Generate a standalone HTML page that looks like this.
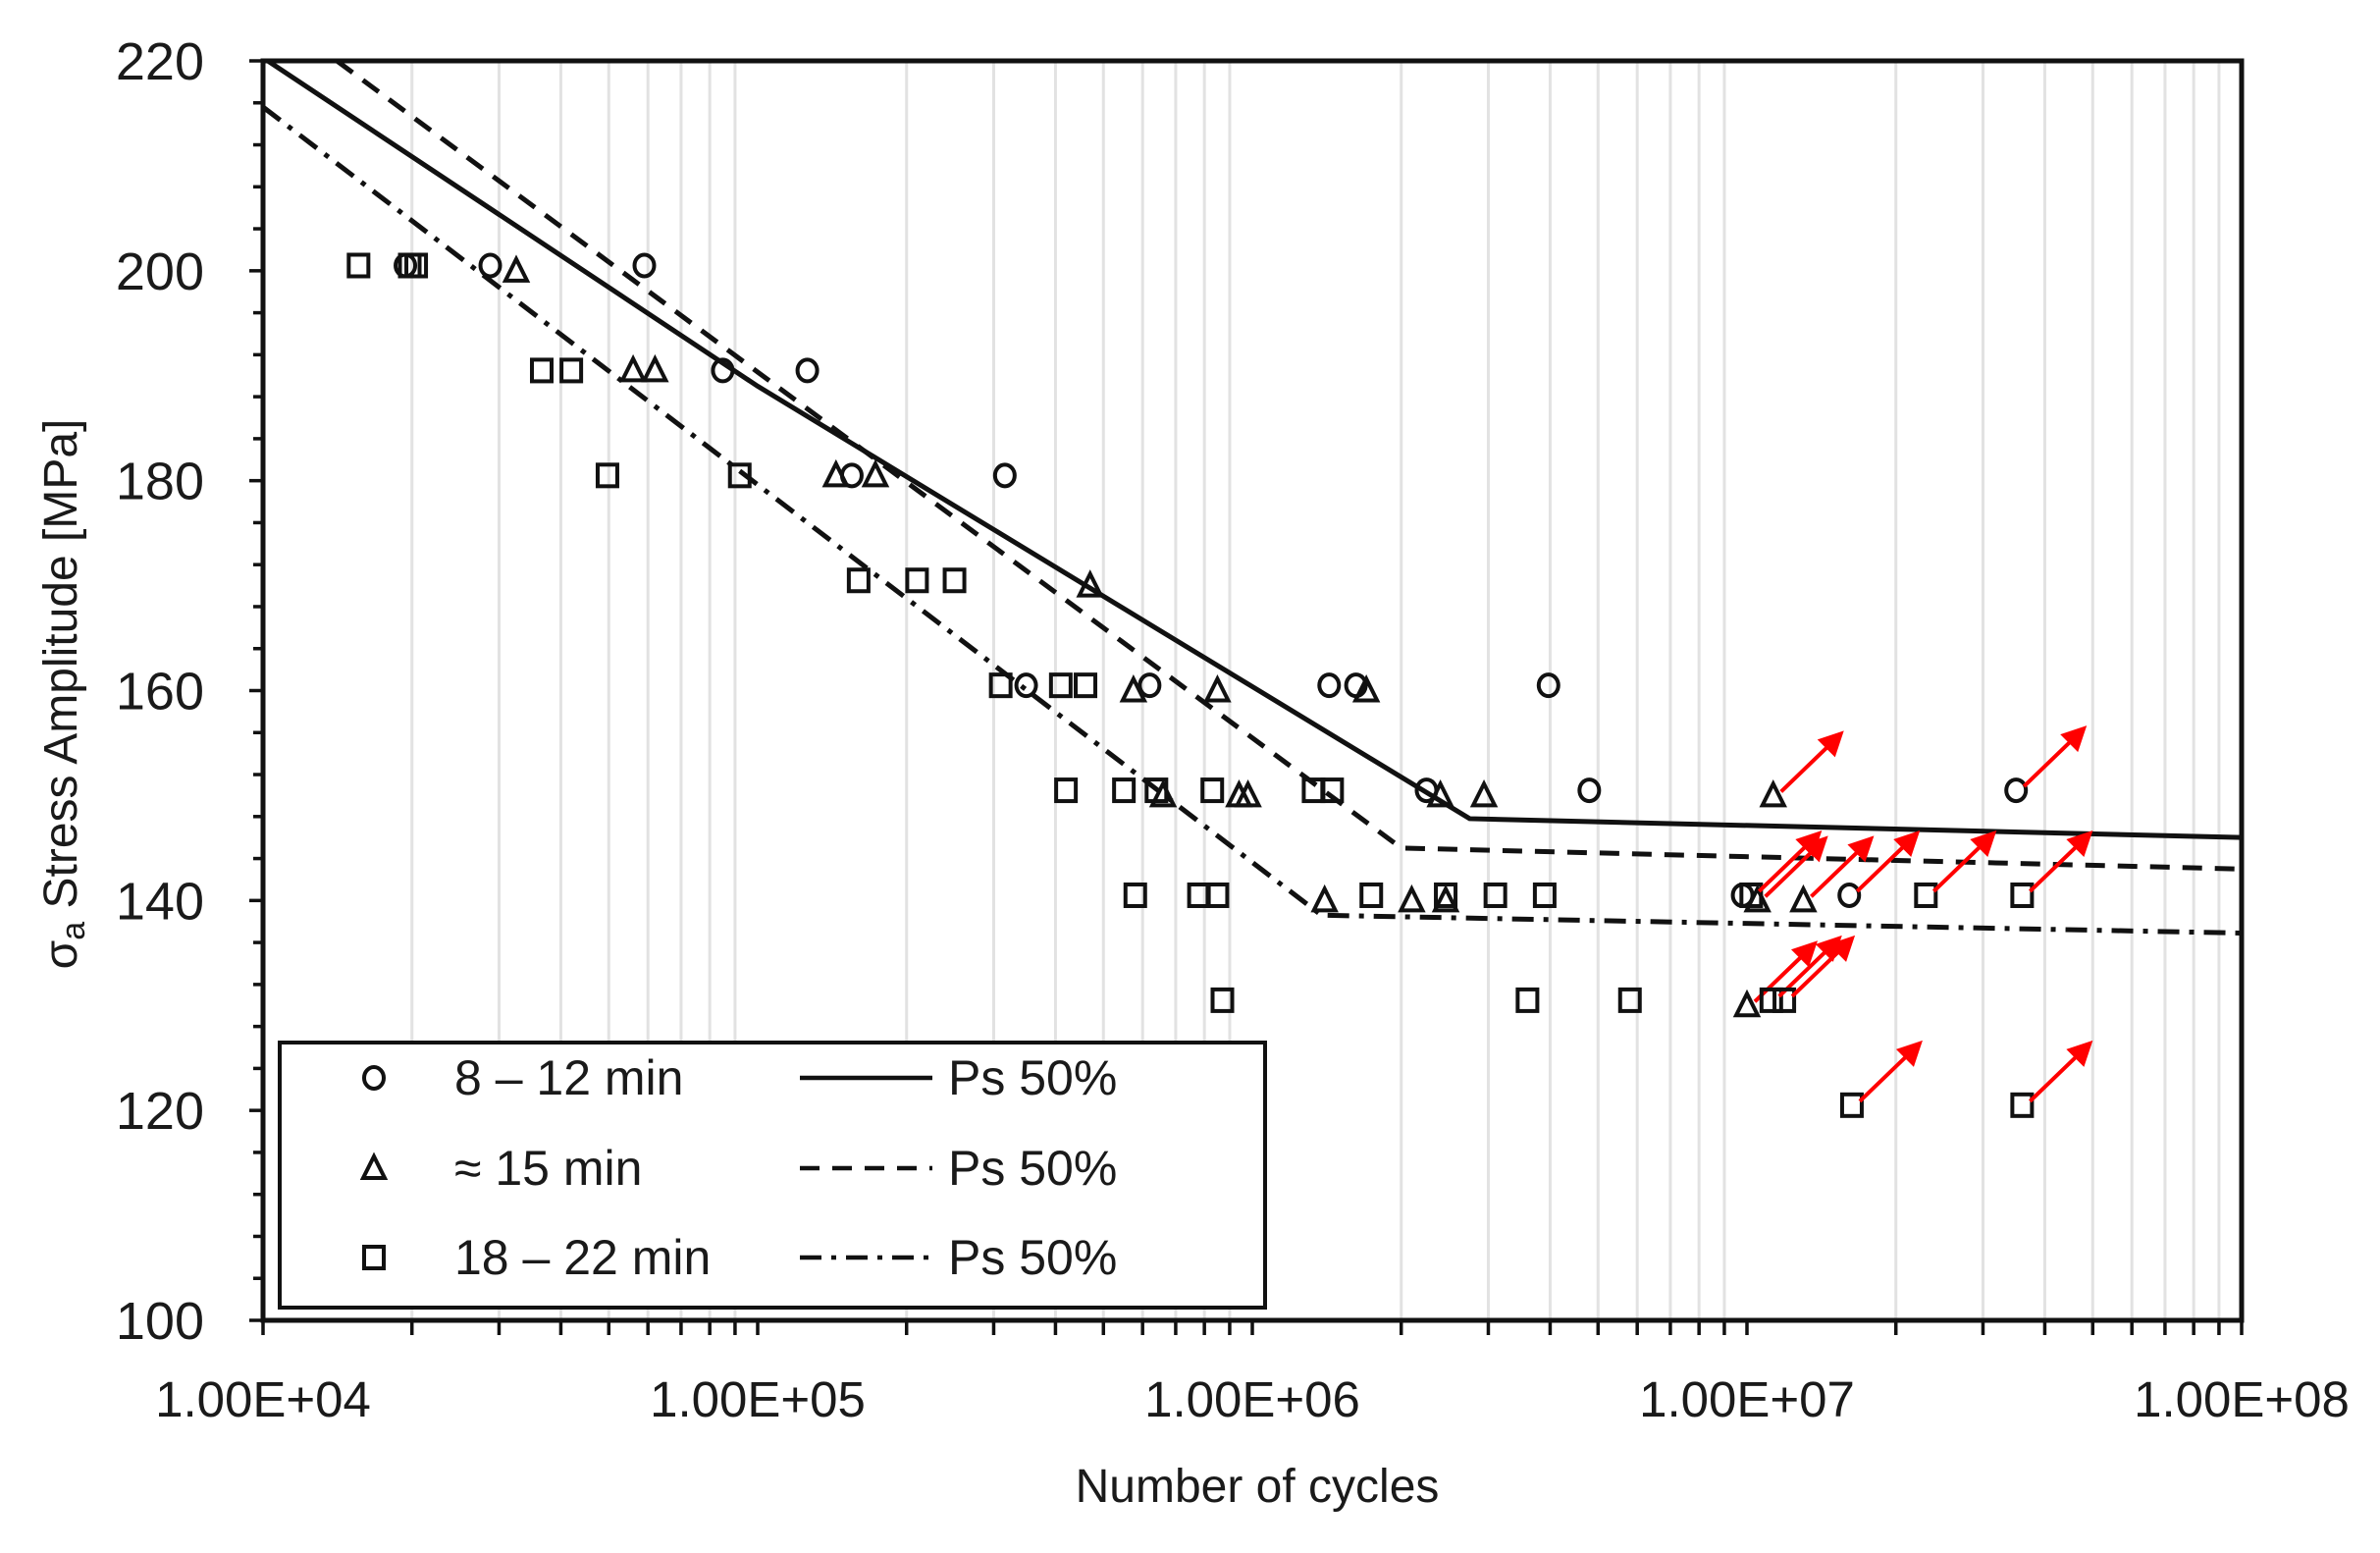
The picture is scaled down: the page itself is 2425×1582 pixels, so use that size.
<!DOCTYPE html>
<html><head><meta charset="utf-8"><style>
html,body{margin:0;padding:0;background:#fff}
svg{display:block}
text{font-family:"Liberation Sans",sans-serif;fill:#1a1a1a}
</style></head><body>
<svg id="chart" width="2425" height="1582" viewBox="0 0 2425 1582" xmlns="http://www.w3.org/2000/svg">
<g id="grid"></g>
<g id="axes"></g>
<g id="curves"></g>
<g id="points"></g>
<text x="1281" y="1530" font-size="48" text-anchor="middle">Number of cycles</text>
<text transform="translate(78,707) rotate(-90)" font-size="48" text-anchor="middle">σ<tspan font-size="34" dy="8">a</tspan><tspan dy="-8"> Stress Amplitude [MPa]</tspan></text>
<g id="legend"></g>
</svg>
<script>
// ---- data ----
const xTickLabels = ["1.00E+04","1.00E+05","1.00E+06","1.00E+07","1.00E+08"];
const yTickValues = [100,120,140,160,180,200,220];
// 8-12 min (circles)
const circN = [1.94e4,2.88e4,5.9e4,8.5e4,1.26e5,1.55e5,3.16e5,3.49e5,6.2e5,1.43e6,1.62e6,3.97e6,2.25e6,4.8e6,9.8e6];
const circS = [200.5,200.5,200.5,190.5,190.5,180.5,180.5,160.5,160.5,160.5,160.5,160.5,150.5,150.5,140.5];
const circRunN = [3.5e7,1.61e7];
const circRunS = [150.5,140.5];
// ~15 min (triangles)
const triN = [3.25e4,5.6e4,6.2e4,1.44e5,1.73e5,4.7e5,5.75e5,8.5e5,1.7e6,6.6e5,9.4e5,9.8e5,2.4e6,2.94e6,1.4e6,2.1e6,2.46e6];
const triS = [200,190.5,190.5,180.5,180.5,170,160,160,160,150,150,150,150,150,140,140,140];
const triRunN = [1.13e7,1.05e7,1.3e7,1.0e7];
const triRunS = [150,140,140,130];
// 18-22 min (squares)
const sqN = [1.56e4,1.98e4,2.04e4,3.66e4,4.2e4,4.97e4,9.2e4,1.6e5,2.1e5,2.5e5,3.1e5,4.1e5,4.6e5,4.2e5,5.5e5,6.4e5,8.3e5,1.33e6,1.45e6,5.8e5,7.8e5,8.5e5,1.74e6,2.46e6,3.1e6,3.9e6,8.7e5,3.6e6,5.8e6];
const sqS = [200.5,200.5,200.5,190.5,190.5,180.5,180.5,170.5,170.5,170.5,160.5,160.5,160.5,150.5,150.5,150.5,150.5,150.5,150.5,140.5,140.5,140.5,140.5,140.5,140.5,140.5,130.5,130.5,130.5];
const sqRunN = [1.02e7,2.3e7,3.6e7,1.12e7,1.19e7,1.63e7,3.6e7];
const sqRunS = [140.5,140.5,140.5,130.5,130.5,120.5,120.5];
// Ps 50% curves
const solidN = [1e4,1e5,2.75e6,1e8];
const solidS = [220.3,189,147.8,146.0];
const dashN = [1.41e4,2.0e6,1e8];
const dashS = [220,145,143];
const dotN = [1e4,1.38e6,1e8];
const dotS = [215.6,138.6,136.9];

// ---- scales ----
const L=268,R=2284,T=62,B=1345;
const X=n=>L+(Math.log10(n)-4)*(R-L)/4;
const Y=s=>T+(220-s)*(B-T)/120;
const NS="http://www.w3.org/2000/svg";
function mk(tag,attrs,parent){const e=document.createElementNS(NS,tag);for(const k in attrs)e.setAttribute(k,attrs[k]);parent.appendChild(e);return e;}
const grid=document.getElementById('grid'),axes=document.getElementById('axes'),curves=document.getElementById('curves'),pts=document.getElementById('points'),leg=document.getElementById('legend');

// grid + x ticks
for(let d=4;d<8;d++){for(let m=1;m<=9;m++){const x=X(m*Math.pow(10,d));
  if(m>1){const g=mk('line',{x1:x,x2:x,y1:T,y2:B,stroke:'#e2e2e2','stroke-width':3},grid);
  
  }
  const t=mk('line',{x1:x,x2:x,y1:B,y2:B+15,stroke:'#111','stroke-width':3.5},axes);
  
  }}
{const t=mk('line',{x1:R,x2:R,y1:B,y2:B+15,stroke:'#111','stroke-width':3.5},axes);

}
xTickLabels.forEach((lab,i)=>{const t=mk('text',{x:X(Math.pow(10,4+i)),y:1443,'font-size':51,'text-anchor':'middle'},axes);t.textContent=lab;

});
// y ticks
for(let s=100;s<=220;s+=4){const major=(s%20===0);
  const t=mk('line',{x1:L-(major?14:10),x2:L,y1:Y(s),y2:Y(s),stroke:'#111','stroke-width':3.5},axes);
  
  }
yTickValues.forEach(v=>{const t=mk('text',{x:208,y:Y(v)+19,'font-size':54,'text-anchor':'end'},axes);t.textContent=v;

});
// frame
{const f=mk('rect',{x:L,y:T,width:R-L,height:B-T,fill:'none',stroke:'#111','stroke-width':5},axes);

}

// curves
const clip=mk('clipPath',{id:'pc'},document.getElementById('chart'));mk('rect',{x:L,y:T,width:R-L,height:B-T},clip);
function curve(ns,ss,dash,name){const p=ns.map((n,i)=>X(n)+','+Y(ss[i])).join(' ');
  const e=mk('polyline',{points:p,fill:'none',stroke:'#111','stroke-width':5,'stroke-dasharray':dash,'clip-path':'url(#pc)'},curves);
  
  }
curve(solidN,solidS,'none','ps50-curve-8-12min');
curve(dashN,dashS,'20 13','ps50-curve-15min');
curve(dotN,dotS,'22 10 5 10','ps50-curve-18-22min');

// markers
function marker(type,x,y,g){let e;
  if(type==='c')e=mk('ellipse',{cx:x,cy:y,rx:10,ry:11,fill:'none',stroke:'#111','stroke-width':4},g);
  else if(type==='t')e=mk('polygon',{points:`${x},${y-12} ${x-11},${y+10} ${x+11},${y+10}`,fill:'none',stroke:'#111','stroke-width':4},g);
  else e=mk('rect',{x:x-10,y:y-11,width:20,height:22,fill:'none',stroke:'#111','stroke-width':4},g);
  return e;}
function arrow(x,y){const x1=x+8,y1=y-4,x2=x+72,y2=y-66;
  const l=mk('line',{x1:x1,y1:y1,x2:x2-10,y2:y2+10,stroke:'#ff0000','stroke-width':4},pts);
  
  
  const h=mk('polygon',{points:`${x2},${y2} ${x2-27},${y2+9} ${x2-9},${y2+27}`,fill:'#ff0000'},pts);
  
  }
function series(type,ns,ss,name){ns.forEach((n,i)=>{const e=marker(type,X(n),Y(ss[i]),pts);
  
  });}
function runouts(type,ns,ss,name){ns.forEach((n,i)=>{const e=marker(type,X(n),Y(ss[i]),pts);
  
  
  arrow(X(n),Y(ss[i]));});}
series('c',circN,circS,'point-8-12min');
series('t',triN,triS,'point-15min');
series('s',sqN,sqS,'point-18-22min');
runouts('c',circRunN,circRunS,'runout-8-12min');
runouts('t',triRunN,triRunS,'runout-15min');
runouts('s',sqRunN,sqRunS,'runout-18-22min');

// legend
{const b=mk('rect',{x:285,y:1062,width:1004,height:270,fill:'#fff',stroke:'#111','stroke-width':4},leg);

}
const legLabels=["8 – 12 min","≈ 15 min","18 – 22 min"];
const legTypes=['c','t','s'];
const legDash=['none','20 13','22 10 5 10'];
[1098,1190,1281].forEach((y,i)=>{
  const m=marker(legTypes[i],381,y,leg);
  
  
  const t=mk('text',{x:463,y:y+17,'font-size':50},leg);t.textContent=legLabels[i];
  
  
  const l=mk('line',{x1:815,x2:950,y1:y,y2:y,stroke:'#111','stroke-width':4.5,'stroke-dasharray':legDash[i]},leg);
  
  
  const t2=mk('text',{x:966,y:y+17,'font-size':50},leg);t2.textContent="Ps 50%";
  
  
});
</script>
</body></html>
